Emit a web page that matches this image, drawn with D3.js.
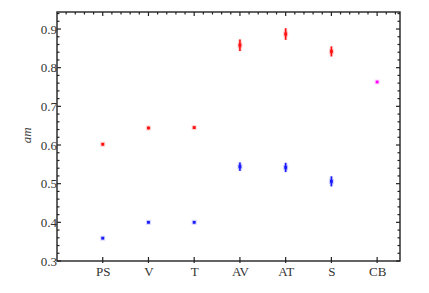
<!DOCTYPE html>
<html><head><meta charset="utf-8">
<script src="https://cdn.jsdelivr.net/npm/d3@7"></script>
<style>body{margin:0;background:#fff}svg{display:block}text{font-family:"Liberation Serif","DejaVu Serif",serif}</style>
</head><body>
<script>
const categories = ["PS","V","T","AV","AT","S","CB"];
const redValues = [0.602,0.644,0.645,0.858,0.887,0.842,null];
const redErrors = [0.003,0.003,0.003,0.015,0.015,0.013,null];
const blueValues = [0.359,0.400,0.400,0.544,0.542,0.506,null];
const blueErrors = [0.002,0.002,0.002,0.011,0.012,0.013,null];
const magentaValues = [null,null,null,null,null,null,0.763];
const yTicks = [0.3,0.4,0.5,0.6,0.7,0.8,0.9];

const W=429,H=293;
const m={l:57,t:12,r:400,b:261};
const svg=d3.select("body").append("svg").attr("width",W).attr("height",H);
const x=d3.scaleLinear().domain([0,7.5]).range([m.l,m.r]);
const y=d3.scaleLinear().domain([0.3,0.944]).range([m.b,m.t]);
const ax="#222";

// frame
svg.append("rect").attr("x",m.l).attr("y",m.t).attr("width",m.r-m.l).attr("height",m.b-m.t)
  .attr("fill","none").attr("stroke",ax).attr("stroke-width",1.4);

// left/right ticks
d3.range(0.3,0.945,0.02).forEach(v=>{
  const maj=Math.abs(Math.round(v*10)/10-v)<1e-6;
  const L=maj?4:2.5;
  svg.append("line").attr("x1",m.l).attr("x2",m.l+L).attr("y1",y(v)).attr("y2",y(v)).attr("stroke",ax).attr("stroke-width",1.2);
  svg.append("line").attr("x1",m.r).attr("x2",m.r-L).attr("y1",y(v)).attr("y2",y(v)).attr("stroke",ax).attr("stroke-width",1.2);
});
const yAxis=d3.axisLeft(y).tickValues(yTicks).tickFormat(d3.format(".1f")).tickSize(0).tickPadding(0);
const gy=svg.append("g").attr("transform",`translate(${m.l},0)`).call(yAxis);
gy.select(".domain").remove();
gy.selectAll("text").style("font-family",'"Liberation Serif",serif').attr("font-size",13).attr("fill","#333");

// top ticks
d3.range(0.2,7.5,0.2).forEach(v=>{
  const maj=Math.abs(Math.round(v)-v)<1e-6;
  svg.append("line").attr("x1",x(v)).attr("x2",x(v)).attr("y1",m.t).attr("y2",m.t+(maj?4:2.5)).attr("stroke",ax).attr("stroke-width",1.2);
});
// bottom axis
const xAxis=d3.axisBottom(x).tickValues(d3.range(1,8)).tickFormat(d=>categories[d-1]).tickSize(0).tickPadding(6);
const gx=svg.append("g").attr("transform",`translate(0,${m.b})`).call(xAxis);
gx.select(".domain").remove();
gx.selectAll("text").style("font-family",'"Liberation Serif",serif').attr("font-size",13).attr("fill","#333");
d3.range(1,8).forEach(v=>{
  svg.append("line").attr("x1",x(v)).attr("x2",x(v)).attr("y1",m.b-4).attr("y2",m.b+2).attr("stroke",ax).attr("stroke-width",1.2);
});

// y label
svg.append("text").attr("transform",`translate(31,${y(0.625)}) rotate(-90)`).attr("text-anchor","middle")
  .style("font-family",'"Liberation Serif",serif').attr("font-style","italic").attr("font-size",13).attr("fill","#444").text("am");

function series(vals,errs,color){
  vals.forEach((v,i)=>{
    if(v==null) return;
    const cx=x(i+1);
    const e=errs?errs[i]:0;
    if(e){
      svg.append("rect").attr("x",cx-0.8).attr("y",y(v+e)).attr("width",1.6).attr("height",y(v-e)-y(v+e))
        .attr("fill",color);
      svg.append("rect").attr("x",cx-1.8).attr("y",y(v+e)).attr("width",3.6).attr("height",y(v-e)-y(v+e))
        .attr("fill",color).attr("opacity",0.18);
    }
    svg.append("rect").attr("x",cx-2.5).attr("y",y(v)-2.5).attr("width",5).attr("height",5).attr("fill",color).attr("opacity",0.18);
    svg.append("rect").attr("x",cx-1.4).attr("y",y(v)-1.4).attr("width",2.8).attr("height",2.8).attr("fill",color);
  });
}
series(redValues,redErrors,"#ff1010");
series(blueValues,blueErrors,"#1a1aff");
series(magentaValues,null,"#ff00ff");
</script>
</body></html>
